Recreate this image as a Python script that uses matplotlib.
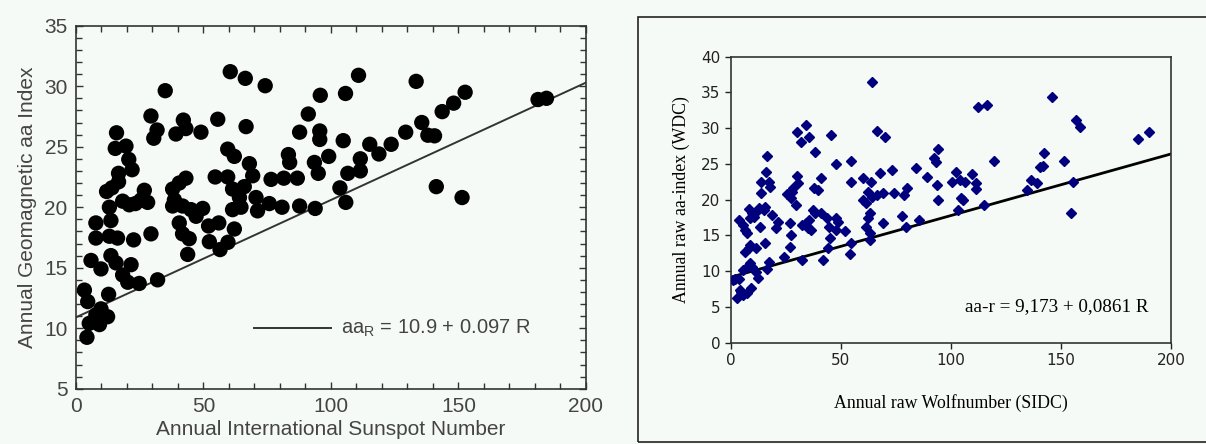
import numpy as np
import matplotlib
matplotlib.use("Agg")
import matplotlib.pyplot as plt
from matplotlib.ticker import MultipleLocator
from matplotlib.patches import Rectangle

BG = '#f6faf7'

# ---- left panel: sunspot number vs aa index
left_pts = [
    (60.5, 31.2), (66.4, 30.65), (74.2, 30.04), (35.0, 29.63), (29.4, 27.54), (31.8, 26.38),
    (30.5, 25.7), (42.1, 27.2), (43.1, 26.5), (39.2, 26.05), (49.0, 26.2), (55.6, 27.27),
    (66.7, 26.66), (15.9, 26.15), (15.4, 24.86), (19.6, 25.05), (20.7, 23.95), (22.0, 23.1),
    (16.7, 22.8), (16.7, 22.1), (12.0, 21.3), (14.1, 21.6), (26.8, 21.4), (28.1, 20.4),
    (25.5, 20.6), (23.3, 20.3), (18.3, 20.5), (20.9, 20.2), (13.1, 20.0), (7.8, 18.7),
    (13.7, 18.9), (7.8, 17.45), (16.3, 17.45), (13.1, 17.6), (22.6, 17.3), (29.4, 17.8),
    (5.9, 15.6), (9.8, 14.9), (13.7, 16.0), (15.7, 15.4), (21.6, 15.25), (18.3, 14.4),
    (20.3, 13.8), (24.8, 13.7), (32.0, 14.0), (3.3, 13.15), (4.6, 12.2), (12.8, 12.8),
    (9.8, 11.6), (12.4, 10.95), (7.8, 11.1), (5.2, 10.4), (9.2, 10.3), (4.3, 9.25),
    (43.1, 22.4), (40.5, 22.0), (37.9, 21.5), (38.6, 20.6), (41.8, 20.1), (37.9, 20.1),
    (45.1, 19.8), (49.7, 19.9), (47.1, 19.25), (40.5, 18.7), (41.8, 17.8), (44.4, 17.4),
    (43.8, 16.1), (52.0, 18.45), (56.0, 18.7), (62.1, 18.2), (52.3, 17.15), (56.5, 16.5),
    (59.6, 17.1), (54.6, 22.5), (59.5, 22.5), (61.4, 21.5), (64.1, 20.8), (64.7, 20.0),
    (61.4, 19.8), (59.5, 24.8), (62.1, 24.2), (68.0, 23.6), (69.3, 22.6), (66.0, 21.7),
    (70.6, 20.8), (71.2, 19.7), (75.8, 20.3), (76.5, 22.3),
    (91.1, 27.7), (87.7, 26.2), (95.6, 26.3), (95.6, 25.6), (95.8, 29.25), (105.7, 29.4),
    (110.8, 30.9), (133.4, 30.4), (152.6, 29.5), (181.2, 28.9), (184.5, 29.0), (148.1, 28.6),
    (143.6, 27.9), (135.6, 27.0), (129.3, 26.2), (138.0, 25.95), (140.6, 25.9), (104.8, 25.5),
    (115.2, 25.2), (118.8, 24.4), (123.6, 25.2), (111.5, 24.0), (111.5, 23.0), (106.6, 22.8),
    (103.5, 21.6), (105.8, 20.4), (93.8, 19.9), (99.1, 24.2), (93.5, 23.7), (95.0, 22.8),
    (83.3, 24.35), (83.8, 23.7), (86.8, 22.4), (81.5, 22.4), (87.7, 20.1), (80.8, 20.0),
    (141.3, 21.7), (151.4, 20.8),
]
left_x = [p[0] for p in left_pts]
left_y = [p[1] for p in left_pts]
left_fit = (10.9, 0.097)

# ---- right panel: raw wolf number vs raw aa index
right_pts = [
    (64.2, 36.4), (146.1, 34.4), (112.5, 33.0), (116.2, 33.2), (34.3, 30.4), (30.1, 29.4),
    (35.7, 28.7), (31.8, 28.0), (45.7, 29.0), (66.6, 29.6), (70.0, 28.7), (157.0, 31.1),
    (158.7, 30.2), (185.0, 28.5), (190.1, 29.4), (94.3, 27.1), (142.3, 26.5), (38.4, 26.7),
    (16.5, 26.1), (16.0, 23.9), (13.6, 22.5), (17.4, 22.5), (13.6, 21.0), (17.8, 21.8),
    (18.7, 17.9), (54.7, 25.4), (47.6, 25.0), (84.1, 24.5), (73.4, 24.2), (67.6, 23.7),
    (41.1, 23.1), (30.1, 23.3), (30.6, 22.4), (54.4, 22.5), (59.8, 23.0), (63.6, 22.5),
    (62.4, 21.1), (64.1, 20.4), (59.8, 19.95), (66.6, 20.65), (69.2, 20.9), (92.1, 25.8),
    (93.0, 25.3), (89.2, 23.2), (93.5, 22.05), (94.1, 19.95), (74.3, 21.0), (78.5, 20.65),
    (80.2, 21.7), (77.6, 17.7), (79.6, 16.2), (85.3, 17.2), (100.3, 22.5), (102.3, 23.9),
    (104.0, 22.75), (106.5, 22.5), (104.8, 20.2), (103.2, 18.5), (105.7, 19.95), (109.6, 23.6),
    (111.6, 22.3), (111.3, 21.5), (115.0, 19.2), (119.8, 25.4), (134.7, 21.3), (136.3, 22.75),
    (139.3, 22.3), (140.5, 24.6), (141.9, 24.75), (151.6, 25.4), (155.5, 22.5), (154.6, 18.2),
    (61.5, 19.5), (63.3, 18.2), (62.4, 17.5), (63.3, 14.4), (61.5, 16.2), (63.3, 15.3),
    (69.2, 16.7), (37.7, 21.6), (39.4, 21.35), (37.4, 18.55), (38.2, 18.1), (35.5, 17.2),
    (34.8, 16.0), (36.4, 15.8), (32.3, 16.5), (34.0, 16.7), (41.1, 18.1), (43.7, 17.4),
    (44.5, 16.2), (47.6, 17.4), (48.8, 16.9), (47.6, 15.8), (51.8, 15.6), (45.0, 14.7),
    (44.0, 13.2), (42.0, 11.6), (54.4, 13.9), (54.2, 12.35), (32.3, 11.6), (29.4, 19.2),
    (26.7, 20.9), (27.9, 21.1), (25.3, 20.75), (28.0, 21.6), (27.2, 20.2), (26.7, 16.7),
    (27.2, 15.1), (26.7, 13.4), (24.1, 12.0), (17.3, 11.3), (16.5, 10.25), (21.6, 16.9),
    (20.7, 16.0), (12.9, 18.9), (12.2, 18.55), (14.8, 18.55), (15.6, 19.0), (13.1, 16.2),
    (15.6, 13.9), (11.4, 13.2), (11.4, 9.9), (12.2, 9.0), (8.8, 11.1), (9.7, 10.6),
    (8.0, 18.65), (9.7, 18.1), (8.8, 17.4), (10.5, 17.6), (3.7, 17.2), (5.4, 16.5),
    (6.3, 15.8), (7.1, 15.3), (8.0, 13.2), (6.3, 12.7), (8.8, 13.7), (5.4, 10.2),
    (7.1, 10.6), (9.2, 7.7), (0.85, 8.8), (2.0, 8.85), (3.7, 8.85), (4.6, 7.1),
    (2.9, 6.2), (5.4, 6.7), (7.1, 6.9), (4.1, 7.4),
]
right_x = [p[0] for p in right_pts]
right_y = [p[1] for p in right_pts]
right_fit = (9.173, 0.0861)

fig = plt.figure(figsize=(12.06, 4.44), dpi=100)
fig.patch.set_facecolor(BG)

# ---------------- left
ax1 = fig.add_axes([0.0630, 0.1245, 0.4229, 0.8176])
ax1.set_facecolor(BG)
ax1.scatter(left_x, left_y, s=122, c='black', edgecolors='none', zorder=3)
xx = np.array([0, 200])
ax1.plot(xx, left_fit[0] + left_fit[1]*xx, color='#333333', lw=1.4, zorder=2)
ax1.set_xlim(0, 200)
ax1.set_ylim(5, 35)
ax1.xaxis.set_major_locator(MultipleLocator(50))
ax1.xaxis.set_minor_locator(MultipleLocator(10))
ax1.yaxis.set_major_locator(MultipleLocator(5))
ax1.yaxis.set_minor_locator(MultipleLocator(1))
ax1.tick_params(which='both', direction='in', top=True, right=True, colors='#333333',
                labelcolor='#444444', labelsize=15)
ax1.tick_params(which='major', length=5, width=1, pad=6)
ax1.tick_params(which='minor', length=4, width=1)
for sp in ax1.spines.values():
    sp.set_color('#333333')
    sp.set_linewidth(1.2)
ax1.set_xlabel('Annual International Sunspot Number', fontsize=15, color='#444444',
               family='Liberation Sans', labelpad=3)
ax1.set_ylabel('Annual Geomagnetic aa Index', fontsize=15, color='#444444',
               family='Liberation Sans', labelpad=5)
for lb in ax1.get_xticklabels() + ax1.get_yticklabels():
    lb.set_family('Liberation Sans')
ax1.plot([70, 100], [10, 10], color='#333333', lw=1.4)
ax1.text(104, 10, r'aa$_\mathregular{R}$ = 10.9 + 0.097 R', fontsize=14.5,
         color='#444444', family='Liberation Sans', va='center')

# ---------------- right
fig.patches.append(Rectangle((638/1206, 2/444), 0.48, 425/444, transform=fig.transFigure,
                             fill=False, edgecolor='#222222', lw=1.2))
ax2 = fig.add_axes([0.6061, 0.2282, 0.3648, 0.6441])
ax2.set_facecolor(BG)
ax2.plot(right_x, right_y, 'D', ms=4.6, color='#00007f', mec='#00007f', zorder=3)
ax2.plot(xx, right_fit[0] + right_fit[1]*xx, color='black', lw=2, zorder=2)
ax2.set_xlim(0, 200)
ax2.set_ylim(0, 40)
ax2.xaxis.set_major_locator(MultipleLocator(50))
ax2.yaxis.set_major_locator(MultipleLocator(5))
ax2.tick_params(direction='out', length=4, width=1, colors='#222222', labelsize=12)
for sp in ax2.spines.values():
    sp.set_color('#333333')
    sp.set_linewidth(1.2)
ax2.set_xlabel('Annual raw Wolfnumber (SIDC)', fontsize=12.8, family='Liberation Serif',
               labelpad=19)
ax2.set_ylabel('Annual raw aa-index (WDC)', fontsize=12.8, family='Liberation Serif',
               labelpad=8)
for lb in ax2.get_xticklabels() + ax2.get_yticklabels():
    lb.set_family('DejaVu Sans')
    lb.set_fontsize(11)
ax2.text(106.5, 5.0, 'aa-r = 9,173 + 0,0861 R', fontsize=13.8, family='Liberation Serif',
         va='center')

fig.savefig('out.png', dpi=100, facecolor=BG)
